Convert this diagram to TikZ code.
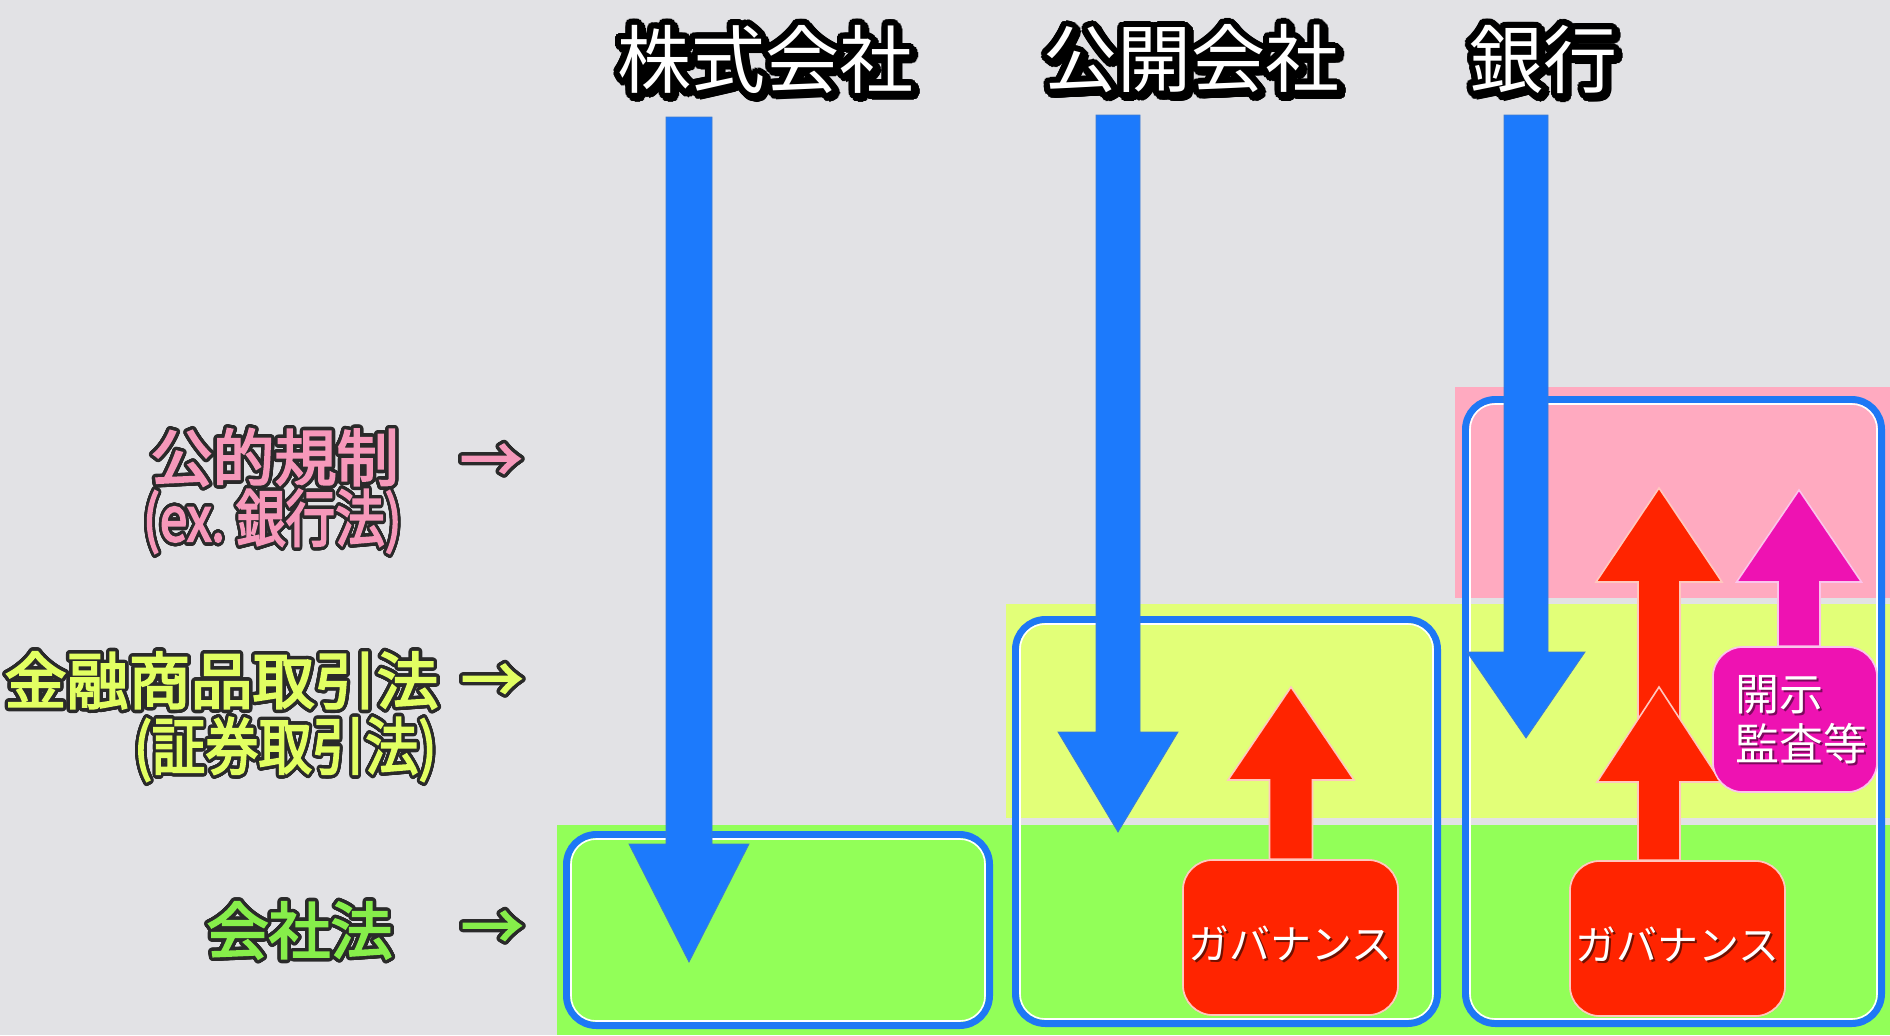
\documentclass[tikz,border=0pt]{standalone}
\usepackage{fontspec}
\setmainfont{Noto Sans CJK JP}
\newfontfamily\lawfillfont{Noto Sans CJK JP}[FakeBold=3]
\usepackage{contour}
\contournumber{32}
\usetikzlibrary{calc}
\definecolor{bgc}{RGB}{226,226,229}
\definecolor{bandgreen}{RGB}{146,255,88}
\definecolor{bandyellow}{RGB}{226,255,120}
\definecolor{bandpink}{RGB}{255,170,192}
\definecolor{boxblue}{RGB}{30,120,245}
\definecolor{arrblue}{RGB}{28,122,252}
\definecolor{govred}{RGB}{255,36,0}
\definecolor{discmag}{RGB}{238,18,178}
\definecolor{lblpink}{RGB}{246,152,186}
\definecolor{lblyellow}{RGB}{226,255,98}
\definecolor{lblgreen}{RGB}{134,238,74}
\definecolor{outl}{RGB}{42,42,42}
\newcommand\outl[4]{{\contourlength{#1}\contour{#2}{\textcolor{#3}{#4}}}}
\newcommand\blockarrow[6]{%
  \path[#1] ($(#2)+({-(#4)},0)$) -- ($(#3)+({-(#4)},{-(#6)})$) -- ($(#3)+({-(#5)},{-(#6)})$) -- (#3)
    -- ($(#3)+({#5},{-(#6)})$) -- ($(#3)+({#4},{-(#6)})$) -- ($(#2)+({#4},0)$) -- cycle;}
\begin{document}
\begin{tikzpicture}[x=0.5pt,y=-0.5pt,
  titletext/.style={font=\fontsize{37pt}{40pt}\selectfont, inner sep=0pt},
  lawlabel/.style={font={\lawfillfont\fontsize{31pt}{34pt}\selectfont}, inner sep=0pt, anchor=east},
  lawarrow/.style={font={\lawfillfont\fontsize{31pt}{34pt}\selectfont}, inner sep=0pt},
  frame/.style={draw=boxblue, line width=3.5pt, rounded corners=15pt, inner sep=0pt, outer sep=0pt},
  frameinner/.style={draw=white, line width=0.8pt, rounded corners=12.5pt},
  bluearrow/.style={fill=arrblue, draw=arrblue!65!gray, line width=0.4pt},
  redarrow/.style={fill=govred, draw=govred!25!white, line width=0.8pt},
  magarrow/.style={fill=discmag, draw=discmag!25!white, line width=0.8pt},
  govbox/.style={fill=govred, draw=govred!25!white, line width=0.8pt, rounded corners=15pt,
    minimum width=107.5pt, minimum height=77.5pt, inner sep=0pt},
  discbox/.style={fill=discmag, draw=discmag!25!white, line width=0.8pt, rounded corners=15pt,
    minimum width=82pt, minimum height=72.5pt, inner sep=0pt},
  govtext/.style={font=\fontsize{20.5pt}{24pt}\selectfont, inner sep=0pt},
  disctext/.style={font=\fontsize{22pt}{25pt}\selectfont, inner sep=0pt, align=left, anchor=west},
]
\useasboundingbox (0,0) rectangle (1890,1035);
\fill[bgc] (0,0) rectangle (1890,1035);
% bands
\fill[bandgreen] (557,825) rectangle (1890,1035);
\fill[bandyellow] (1006,604) rectangle (1890,818);
\fill[bandpink] (1455,387) rectangle (1890,598);
% frames
\node[frame, minimum width=211.5pt, minimum height=95.5pt] (f1) at (778,930) {};
\node[frame, minimum width=211pt, minimum height=202pt] (f2) at (1226.5,821.5) {};
\node[frame, minimum width=208pt, minimum height=312pt] (f3) at (1673.5,711.5) {};
\draw[frameinner] ($(f1.south west)+(4.5,-4.5)$) rectangle ($(f1.north east)+(-4.5,4.5)$);
\draw[frameinner] ($(f2.south west)+(4.5,-4.5)$) rectangle ($(f2.north east)+(-4.5,4.5)$);
\draw[frameinner] ($(f3.south west)+(4.5,-4.5)$) rectangle ($(f3.north east)+(-4.5,4.5)$);
% blue arrows
\coordinate (b1tail) at (689,117); \coordinate (b1tip) at (689,962);
\coordinate (b2tail) at (1118,115); \coordinate (b2tip) at (1118,832);
\coordinate (b3tail) at (1526,115); \coordinate (b3tip) at (1526,738);
\blockarrow{bluearrow}{b1tail}{b1tip}{23}{60}{118}
\blockarrow{bluearrow}{b2tail}{b2tip}{22}{60}{100}
\blockarrow{bluearrow}{b3tail}{b3tip}{22}{59}{86}
% governance boxes and arrows
\node[govbox] (gov2) at (1290.5,937.5) {};
\node[govbox] (gov3) at (1677.5,938.5) {};
\node[discbox] (disc) at (1795,719.5) {};
\coordinate (r2tip) at (1291,687);
\coordinate (r3top) at (1659,488);
\coordinate (r3low) at (1659,687);
\coordinate (m1tip) at (1799,490);
\coordinate (r2tail) at (gov2.north -| r2tip);
\coordinate (r3tail) at (gov3.north -| r3top);
\coordinate (m1tail) at (disc.north -| m1tip);
\blockarrow{redarrow}{r2tail}{r2tip}{21.5}{63}{-93}
\blockarrow{redarrow}{r3tail}{r3top}{21}{63}{-94}
\blockarrow{redarrow}{r3tail}{r3low}{21}{62}{-95}
\blockarrow{magarrow}{m1tail}{m1tip}{21}{62.5}{-92}
% redraw boxes on top of arrow tails
\node[govbox] (gov2b) at (gov2) {};
\node[govbox] (gov3b) at (gov3) {};
\node[discbox] (discb) at (disc) {};
% box texts
\node[govtext, text=black!70!govred, opacity=0.8] (g2s) at (1292.5,945.5) {ガバナンス};
\node[govtext, text=white] (g2t) at (1290.5,943.5) {ガバナンス};
\node[govtext, text=black!70!govred, opacity=0.8] (g3s) at (1679.5,946) {ガバナンス};
\node[govtext, text=white] (g3t) at (1677.5,944) {ガバナンス};
\node[disctext, text=black!60!discmag, opacity=0.8] (ds) at (1737,722) {開示\\監査等};
\node[disctext, text=white] (dt) at (1735,720) {開示\\監査等};
% titles
\node[titletext] (t1s) at (768,65) {\outl{3pt}{black}{black}{株式会社}};
\node[titletext] (t1) at (765,62) {\outl{3pt}{black}{white}{株式会社}};
\node[titletext] (t2s) at (1194,65) {\outl{3pt}{black}{black}{公開会社}};
\node[titletext] (t2) at (1191,62) {\outl{3pt}{black}{white}{公開会社}};
\node[titletext] (t3s) at (1546,65) {\outl{3pt}{black}{black}{銀行}};
\node[titletext] (t3) at (1543,62) {\outl{3pt}{black}{white}{銀行}};
% law labels
\node[lawlabel] (l1a) at (399,459) {\outl{1.7pt}{outl}{lblpink}{公的規制}};
\node[lawlabel] (l1b) at (402,523) {\scalebox{0.8}[1]{\outl{1.7pt}{outl}{lblpink}{(ex.\ 銀行法)}}};
\node[lawlabel] (l2a) at (439,682) {\outl{1.7pt}{outl}{lblyellow}{金融商品取引法}};
\node[lawlabel] (l2b) at (437,751) {\scalebox{0.86}[1]{\outl{1.7pt}{outl}{lblyellow}{(証券取引法)}}};
\node[lawlabel] (l3) at (393,932) {\outl{1.7pt}{outl}{lblgreen}{会社法}};
\node[lawarrow] (a1) at (491,465) {\outl{1.7pt}{outl}{lblpink}{→}};
\node[lawarrow] (a2) at (492,685) {\outl{1.7pt}{outl}{lblyellow}{→}};
\node[lawarrow] (a3) at (492,932) {\outl{1.7pt}{outl}{lblgreen}{→}};
\end{tikzpicture}
\end{document}
